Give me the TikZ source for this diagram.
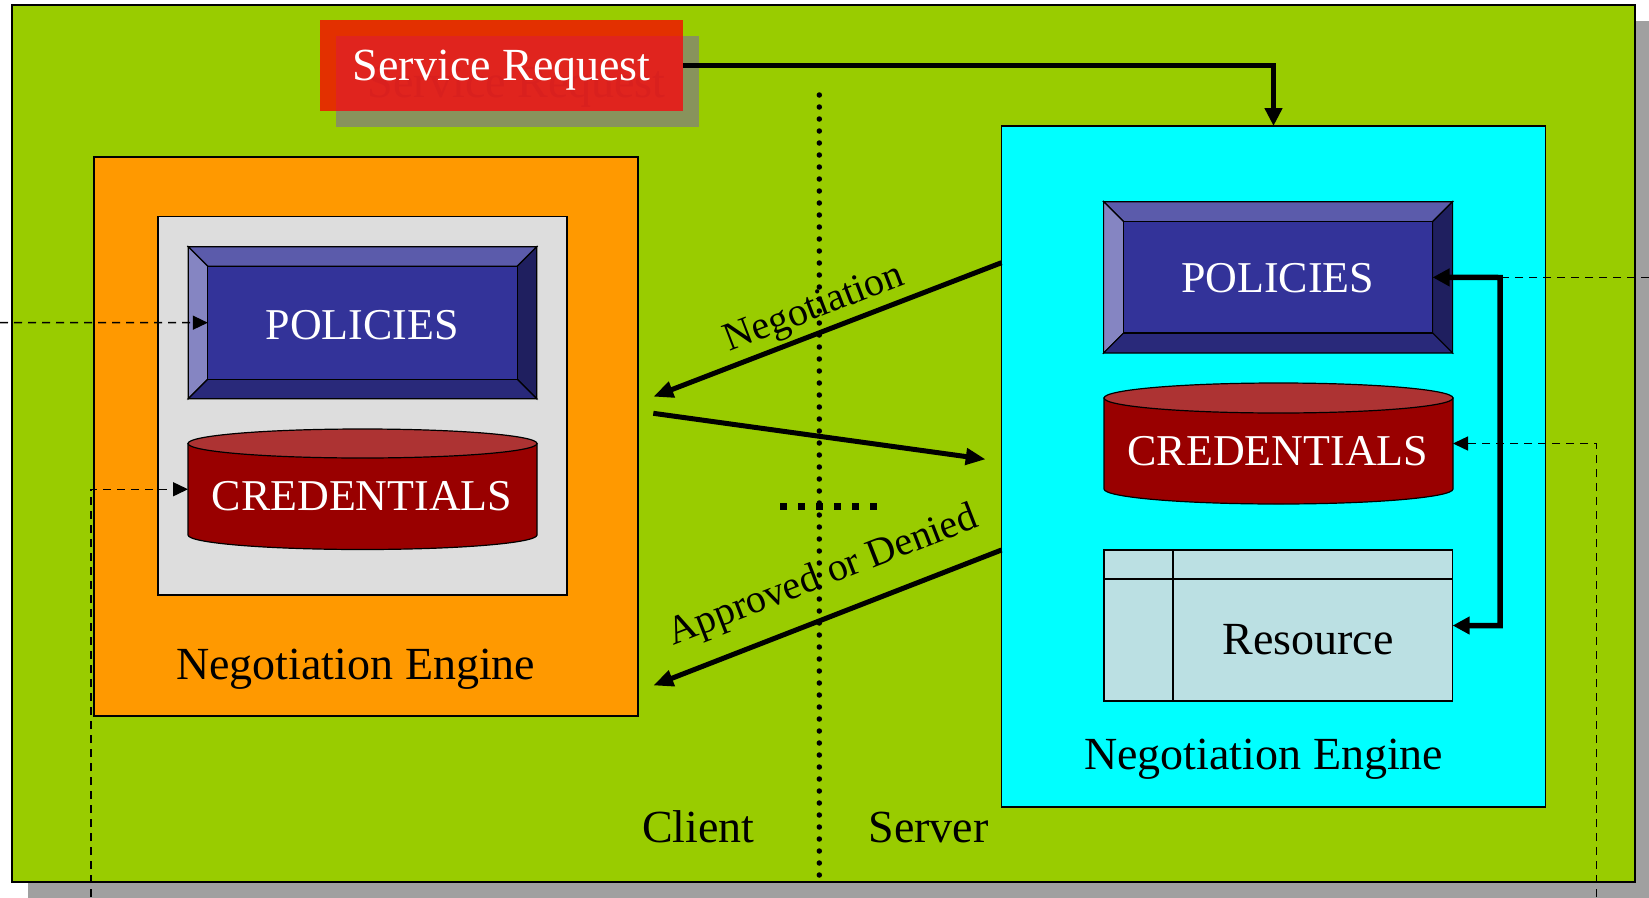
\documentclass[tikz,border=0pt]{standalone}
\usepackage{fontspec}
\setmainfont{Liberation Serif}
\usetikzlibrary{arrows.meta,calc}
\definecolor{bggreen}{HTML}{99CC00}
\definecolor{shadowgray}{HTML}{A0A0A0}
\definecolor{engorange}{HTML}{FF9900}
\definecolor{panelgray}{HTML}{DDDDDD}
\definecolor{engcyan}{HTML}{00FFFF}
\definecolor{resfill}{HTML}{BBE0E3}
\definecolor{polface}{HTML}{333399}
\definecolor{poltop}{HTML}{5B5BAB}
\definecolor{polleft}{HTML}{8585C2}
\definecolor{polright}{HTML}{1F1F5F}
\definecolor{polbottom}{HTML}{29297A}
\definecolor{credbody}{HTML}{990000}
\definecolor{credtop}{HTML}{AD3333}
\definecolor{srred}{HTML}{E33000}
\definecolor{srinner}{HTML}{E0241E}
\definecolor{srshadow}{HTML}{88935C}
\definecolor{srtextshadow}{HTML}{D9201E}

\tikzset{
  frame/.style={draw=black, line width=1.6pt, inner sep=0pt, outer sep=0pt},
  bevelpart/.style={draw=black, line width=1.2pt, line join=miter},
  boxtext/.style={text=white, font=\fontsize{44}{50}\selectfont, inner sep=0pt, anchor=base},
  labeltext/.style={text=black, font=\fontsize{46}{52}\selectfont, inner sep=0pt, anchor=base},
  slopetext/.style={text=black, font=\fontsize{40}{46}\selectfont, inner sep=0pt, anchor=base},
  thickarrow/.style={line width=5.5pt, -{Triangle[length=18pt,width=17pt]}},
  msgarrow/.style={line width=5pt, -{Triangle[length=20pt,width=16pt]}},
  dashline/.style={line width=1.5pt, dash pattern=on 8pt off 6pt},
  dashtip/.style={-{Triangle[length=15pt,width=14pt]}},
  dotline/.style={line width=5.5pt, line cap=round, dash pattern=on 0pt off 12pt},
}

% name, x1, y1, x2, y2, bevel
\newcommand{\BevelBox}[6]{%
  \path[bevelpart, fill=poltop] (#2,#3) -- (#4,#3) -- ({#4-#6},{#3+#6}) -- ({#2+#6},{#3+#6}) -- cycle;
  \path[bevelpart, fill=polleft] (#2,#3) -- ({#2+#6},{#3+#6}) -- ({#2+#6},{#5-#6}) -- (#2,#5) -- cycle;
  \path[bevelpart, fill=polright] (#4,#3) -- (#4,#5) -- ({#4-#6},{#5-#6}) -- ({#4-#6},{#3+#6}) -- cycle;
  \path[bevelpart, fill=polbottom] (#2,#5) -- (#4,#5) -- ({#4-#6},{#5-#6}) -- ({#2+#6},{#5-#6}) -- cycle;
  \node[bevelpart, fill=polface, inner sep=0pt, outer sep=0pt,
        minimum width={(#4-#2-2*#6)*1pt}, minimum height={(#5-#3-2*#6)*1pt}]
        (#1) at ({(#2+#4)/2},{(#3+#5)/2}) {};
}
% name, x1, x2, ytop, ybottom, ry
\newcommand{\CylBox}[6]{%
  \path[draw=black, line width=1.2pt, fill=credbody] (#2,#4) -- (#2,#5)
     arc[start angle=180, end angle=360, x radius={(#3-#2)/2*1pt}, y radius=#6pt] -- (#3,#4) -- cycle;
  \path[draw=black, line width=1.2pt, fill=credtop] ({(#2+#3)/2},#4)
     ellipse[x radius={(#3-#2)/2*1pt}, y radius=#6pt];
  \node[inner sep=0pt, outer sep=0pt, minimum width={(#3-#2)*1pt}, minimum height={(#5-#4)*1pt}]
     (#1) at ({(#2+#3)/2},{(#4+#5)/2}) {};
}

\begin{document}
\begin{tikzpicture}[x=1pt, y=-1pt]
\useasboundingbox (0,0) rectangle (1649,897);

% outer background with shadow
\fill[shadowgray] (27.6,21.3) rectangle (1655,903);
\node[frame, line width=2pt, fill=bggreen, minimum width=1623.4pt, minimum height=876.4pt] (outer) at (823.3,443.5) {};

% service request box
\fill[srshadow] (336,36) rectangle (699,127);
\fill[srred] (320,20) rectangle (683,110.7);
\fill[srinner] (336,36) rectangle (683,110.7);
\node[inner sep=0pt, minimum width=363pt, minimum height=90.7pt] (sr) at (501.5,65.35) {};
\node[boxtext, text=srtextshadow, font=\fontsize{46}{52}\selectfont] (srshade) at (516.8,97) {Service Request};
\node[boxtext, font=\fontsize{46}{52}\selectfont] (srtext) at (501.8,80.7) {Service Request};

% client engine
\node[frame, fill=engorange, minimum width=544pt, minimum height=559.3pt] (leng) at (365.7,436.35) {};
\node[frame, line width=1.4pt, fill=panelgray, minimum width=409.2pt, minimum height=378.4pt] (lpanel) at (362.4,405.8) {};
\BevelBox{lpolin}{188.3}{246.7}{536.7}{398.7}{19.5}
\node[boxtext] (lpoltext) at (362.3,339) {POLICIES};
\CylBox{lcred}{188}{537}{443.5}{535}{14.5}
\node[boxtext] (lcredtext) at (362,510.7) {CREDENTIALS};
\node[labeltext] (lengtext) at (355.8,679) {Negotiation Engine};

% server engine
\node[frame, fill=engcyan, minimum width=544pt, minimum height=680.7pt] (reng) at (1273.5,466.35) {};
\BevelBox{rpolin}{1103.6}{201.7}{1452.6}{353}{20}
\node[boxtext] (rpoltext) at (1277.7,292.7) {POLICIES};
\CylBox{rcred}{1104}{1453}{398}{489}{15}
\node[boxtext] (rcredtext) at (1277.8,465) {CREDENTIALS};
\node[frame, line width=1.4pt, fill=resfill, minimum width=348.6pt, minimum height=151pt] (res) at (1278.3,625.5) {};
\draw[line width=1.4pt] ($(res.north west)+(0,29)$) -- ($(res.north east)+(0,29)$);
\draw[line width=1.4pt] ($(res.north west)+(69,0)$) -- ($(res.south west)+(69,0)$);
\node[labeltext] (restext) at (1308,654) {Resource};
\node[labeltext] (rengtext) at (1263.8,769.3) {Negotiation Engine};

% divider
\coordinate (divtop) at (819.3,95);
\coordinate (divbot) at (819.3,878);
\draw[dotline] (divtop) -- (divbot);
\foreach \i in {0,...,5} {
  \fill ({783.3+18*\i-3.5},503.2) rectangle ++(7,7);
}
\node[labeltext] (client) at (698.3,842.7) {Client};
\node[labeltext] (server) at (928.6,842.7) {Server};

% service request connector
\draw[thickarrow] (sr.east) -| (reng.north);

% negotiation messages
\coordinate (m1s) at (1001.5,262.7);
\coordinate (m1e) at (653.3,396.7);
\coordinate (m2s) at (653.3,413.3);
\coordinate (m2e) at (985.7,459.3);
\coordinate (m3s) at (1001.5,550);
\coordinate (m3e) at (653.3,685.5);
\draw[msgarrow] (m1s) -- (m1e);
\draw[msgarrow] (m2s) -- (m2e);
\draw[msgarrow] (m3s) -- (m3e);
\node[slopetext, rotate=21.1] (neglabel) at (818,318) {Negotiation};
\node[slopetext, rotate=21.3] (adlabel) at (827,586) {Approved or Denied};

% policies <-> resource
\coordinate (rcorner) at (1500,277.5);
\draw[line width=5.5pt, {Triangle[length=17pt,width=17pt]}-{Triangle[length=17pt,width=17pt]}]
  (rpolin.east) -- (rcorner) |- (res.east);

% dashed inputs
\coordinate (rdin) at (1649,277.5);
\coordinate (rdbot) at (1596.5,897);
\coordinate (ldin) at (0,322.5);
\coordinate (ldbot) at (91.2,897);
\draw[dashline] (rdin) -- (rcorner);
\draw[dashline, dashtip] (rdbot) |- (rcred.east);
\draw[dashline, dashtip] (ldin) -- (lpolin.west);
\draw[dashline, dashtip] (ldbot) |- (lcred.west);
\end{tikzpicture}
\end{document}
